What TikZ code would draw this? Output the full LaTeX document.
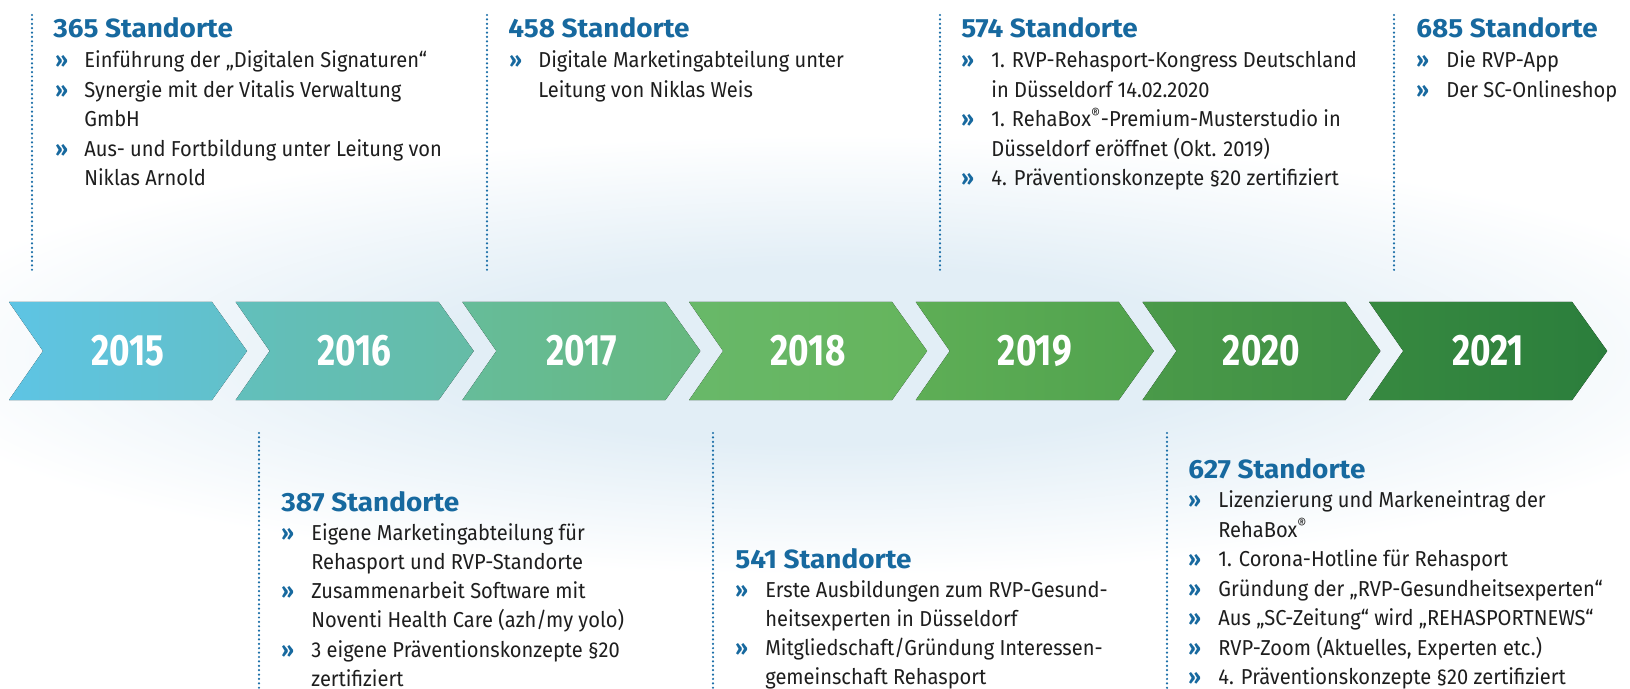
\documentclass[tikz,border=0pt]{standalone}
\usepackage{fontspec}
\setmainfont{Fira Sans}[FakeStretch=0.93]
\newfontfamily\headfamily{Fira Sans}[FakeStretch=1.06]
\newfontfamily\yearfont{Fira Sans}[FakeStretch=0.8]

\definecolor{rvpblue}{HTML}{17699F}
\definecolor{dotblue}{HTML}{1B6FA8}
\definecolor{textgray}{HTML}{1E1E1E}
\definecolor{bgblue}{HTML}{E2EEF6}
\definecolor{c15a}{HTML}{5EC4E4}\definecolor{c15b}{HTML}{62C0C8}
\definecolor{c16a}{HTML}{62BFBC}\definecolor{c16b}{HTML}{65BCA6}
\definecolor{c17a}{HTML}{66BC9A}\definecolor{c17b}{HTML}{66B87E}
\definecolor{c18a}{HTML}{68B869}\definecolor{c18b}{HTML}{65B45C}
\definecolor{c19a}{HTML}{5EAE56}\definecolor{c19b}{HTML}{50A24D}
\definecolor{c20a}{HTML}{4A9A49}\definecolor{c20b}{HTML}{3E8E44}
\definecolor{c21a}{HTML}{378940}\definecolor{c21b}{HTML}{2B7E3C}

\pgfdeclareradialshading{glow}{\pgfpoint{0bp}{0bp}}{color(0bp)=(bgblue); color(6bp)=(bgblue); color(14.9bp)=(white); color(50bp)=(white)}

\newcommand{\bodyfont}{\fontsize{12.3}{16}\selectfont}
\newcommand{\headfont}{\headfamily\bfseries\fontsize{15}{17}\selectfont}

\begin{document}
\begin{tikzpicture}
      [
      x=0.02cm, y=-0.02cm,
      year/.style={text=white, font=\yearfont\bfseries\fontsize{25}{30}\selectfont, inner sep=0pt},
      head/.style={anchor=base west, inner sep=0pt, text=rvpblue, font=\headfont},
      item/.style={anchor=base west, inner sep=0pt, text=textgray, font=\bodyfont},
      bull/.style={anchor=base west, inner sep=0pt, text=rvpblue, font=\bodyfont\bfseries},
      marker/.style={dotblue, line width=1.4pt, line cap=round, dash pattern=on 0pt off 2.5pt}
      ]
      \useasboundingbox (0,0) rectangle (1630,689);
      \begin{scope}
        \clip (0,0) rectangle (1630,689);
        \fill[shading=glow] (-768,-15) rectangle (2428,725);
      \end{scope}

      % chevrons
      \foreach \yr/\ca/\cb [count=\i from 0] in {2015/c15a/c15b, 2016/c16a/c16b, 2017/c17a/c17b,
          2018/c18a/c18b, 2019/c19a/c19b, 2020/c20a/c20b, 2021/c21a/c21b}{
        \pgfmathsetmacro\L{9+226.7*\i}
        \fill[left color=\ca, right color=\cb] (\L,302) -- ++(203,0) -- ++(35,49) -- ++(-35,49)
          -- ++(-203,0) -- ++(34,-49) -- cycle;
        \node[year] (y\yr) at (\L+119,351) {\yr};
      }

      % 2015
      \coordinate (m15a) at (32,15);
      \coordinate (m15b) at (32,271);
      \draw[marker] (m15a) -- (m15b);
      \node[head] (h15) at (53,38) {365 Standorte};
      \foreach \kd/\txt [count=\n] in {1/{Einführung der „Digitalen Signaturen“},
          1/{Synergie mit der Vitalis Verwaltung}, 0/{GmbH},
          1/{Aus- und Fortbildung unter Leitung von}, 0/{Niklas Arnold}}{
        \node[item] (t15-\n) at (84,38+29.6*\n) {\txt};
        \ifnum\kd=1 \node[bull] (b15-\n) at (55,38+29.6*\n) {»};\fi
      }

      % 2016
      \coordinate (m16a) at (259,433);
      \coordinate (m16b) at (259,689);
      \draw[marker] (m16a) -- (m16b);
      \node[head] (h16) at (281,511) {387 Standorte};
      \foreach \kd/\txt [count=\n] in {1/{Eigene Marketingabteilung für},
          0/{Rehasport und RVP-Standorte}, 1/{Zusammenarbeit Software mit},
          0/{Noventi Health Care (azh/my yolo)}, 1/{3 eigene Präventionskonzepte §20},
          0/{zertifiziert}}{
        \node[item] (t16-\n) at (311,511+29.2*\n) {\txt};
        \ifnum\kd=1 \node[bull] (b16-\n) at (281,511+29.2*\n) {»};\fi
      }

      % 2017
      \coordinate (m17a) at (487,15);
      \coordinate (m17b) at (487,271);
      \draw[marker] (m17a) -- (m17b);
      \node[head] (h17) at (508,38) {458 Standorte};
      \foreach \kd/\txt [count=\n] in {1/{Digitale Marketingabteilung unter},
          0/{Leitung von Niklas Weis}}{
        \node[item] (t17-\n) at (538,38+29.6*\n) {\txt};
        \ifnum\kd=1 \node[bull] (b17-\n) at (509,38+29.6*\n) {»};\fi
      }

      % 2018
      \coordinate (m18a) at (713,433);
      \coordinate (m18b) at (713,689);
      \draw[marker] (m18a) -- (m18b);
      \node[head] (h18) at (735,568) {541 Standorte};
      \foreach \kd/\txt [count=\n] in {1/{Erste Ausbildungen zum RVP-Gesund-},
          0/{heitsexperten in Düsseldorf}, 1/{Mitgliedschaft/Gründung Interessen-},
          0/{gemeinschaft Rehasport}}{
        \node[item] (t18-\n) at (765,568+29.2*\n) {\txt};
        \ifnum\kd=1 \node[bull] (b18-\n) at (735,568+29.2*\n) {»};\fi
      }

      % 2019
      \coordinate (m19a) at (940,15);
      \coordinate (m19b) at (940,271);
      \draw[marker] (m19a) -- (m19b);
      \node[head] (h19) at (961,38) {574 Standorte};
      \foreach \kd/\txt [count=\n] in {1/{1. RVP-Rehasport-Kongress Deutschland},
          0/{in Düsseldorf 14.02.2020}, 1/{1. RehaBox\textsuperscript{®}-Premium-Musterstudio in},
          0/{Düsseldorf eröffnet (Okt. 2019)}, 1/{4. Präventionskonzepte §20 zertifiziert}}{
        \node[item] (t19-\n) at (991,38+29.6*\n) {\txt};
        \ifnum\kd=1 \node[bull] (b19-\n) at (961,38+29.6*\n) {»};\fi
      }

      % 2020
      \coordinate (m20a) at (1167,433);
      \coordinate (m20b) at (1167,689);
      \draw[marker] (m20a) -- (m20b);
      \node[head] (h20) at (1188,478) {627 Standorte};
      \foreach \kd/\txt [count=\n] in {1/{Lizenzierung und Markeneintrag der},
          0/{RehaBox\textsuperscript{®}}, 1/{1. Corona-Hotline für Rehasport},
          1/{Gründung der „RVP-Gesundheitsexperten“}, 1/{Aus „SC-Zeitung“ wird „REHASPORTNEWS“},
          1/{RVP-Zoom (Aktuelles, Experten etc.)}, 1/{4. Präventionskonzepte §20 zertifiziert}}{
        \node[item] (t20-\n) at (1218,478+29.5*\n) {\txt};
        \ifnum\kd=1 \node[bull] (b20-\n) at (1188,478+29.5*\n) {»};\fi
      }

      % 2021
      \coordinate (m21a) at (1394,15);
      \coordinate (m21b) at (1394,271);
      \draw[marker] (m21a) -- (m21b);
      \node[head] (h21) at (1416,38) {685 Standorte};
      \foreach \kd/\txt [count=\n] in {1/{Die RVP-App}, 1/{Der SC-Onlineshop}}{
        \node[item] (t21-\n) at (1446,38+29.6*\n) {\txt};
        \ifnum\kd=1 \node[bull] (b21-\n) at (1416,38+29.6*\n) {»};\fi
      }
\end{tikzpicture}
\end{document}
